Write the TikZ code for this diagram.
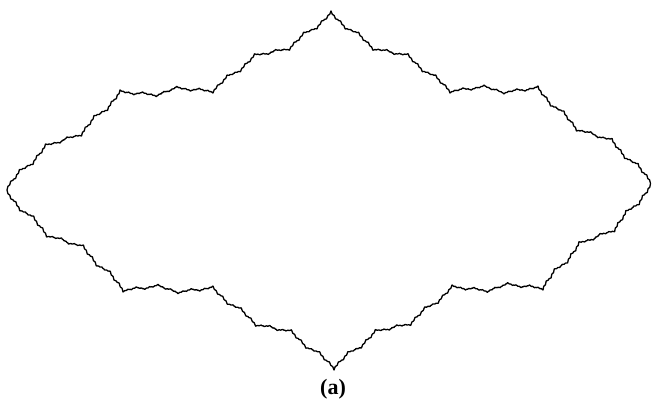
\documentclass[tikz,border=0pt]{standalone}
\usepackage{fontspec}
\setmainfont{Liberation Serif}

%% generator: A -> A(+alpha) B(-beta) A(+alpha), B is the mirror of A
\def\galpha{8.5963}
\def\gbeta{29}
\def\gra{0.397323}
\def\grb{0.245}

\def\fpath{}
\newcommand\fseg[4]{% depth, type (1 or -1), angle, length
  \ifnum#1=0
    \xdef\fpath{\fpath -- ++(#3:#4pt)}%
  \else
    \begingroup
      \pgfmathsetmacro\fa{#3+(#2)*\galpha}%
      \pgfmathsetmacro\fb{#3-(#2)*\gbeta}%
      \pgfmathsetmacro\fla{#4*\gra}%
      \pgfmathsetmacro\flb{#4*\grb}%
      \edef\fnext{%
        \noexpand\fseg{\the\numexpr#1-1\relax}{#2}{\fa}{\fla}%
        \noexpand\fseg{\the\numexpr#1-1\relax}{\the\numexpr0-(#2)\relax}{\fb}{\flb}%
        \noexpand\fseg{\the\numexpr#1-1\relax}{#2}{\fa}{\fla}}%
      \fnext
    \endgroup
  \fi}
\newcommand\fpiece[5]{% type, x1, y1, x2, y2
  \pgfmathsetmacro\pang{atan2(#5-#3,#4-#2)}%
  \pgfmathsetmacro\plen{veclen(#4-#2,#5-#3)}%
  \edef\pnext{\noexpand\fseg{4}{#1}{\pang}{\plen}}\pnext
  \xdef\fpath{\fpath -- (#4,#5)}}

\tikzset{koch/.style={line width=1.3pt, line join=round}}

\begin{document}
\begin{tikzpicture}[x=1pt,y=1pt]
  \useasboundingbox (0,0) rectangle (652,403);
  %% left tip to top
  \fpiece{1}{7}{213}{120}{313}
  \fpiece{-1}{120}{313}{213}{310}
  \fpiece{1}{213}{310}{331}{392}
  %% top to right tip
  \fpiece{-1}{331}{392}{450}{310}
  \fpiece{1}{450}{310}{538}{317}
  \fpiece{-1}{538}{317}{650.5}{219.5}
  %% right tip to bottom
  \fpiece{1}{650.5}{219.5}{543}{113}
  \fpiece{-1}{543}{113}{452}{118}
  \fpiece{1}{452}{118}{334}{33}
  %% bottom to left tip
  \fpiece{-1}{334}{33}{213}{117}
  \fpiece{1}{213}{117}{123}{111}
  \fpiece{-1}{123}{111}{7}{213}
  \draw[koch] (7,213) \fpath -- cycle;
  \node[font=\bfseries\fontsize{22}{22}\selectfont] (lbl) at (333,14) {(a)};
\end{tikzpicture}
\end{document}
